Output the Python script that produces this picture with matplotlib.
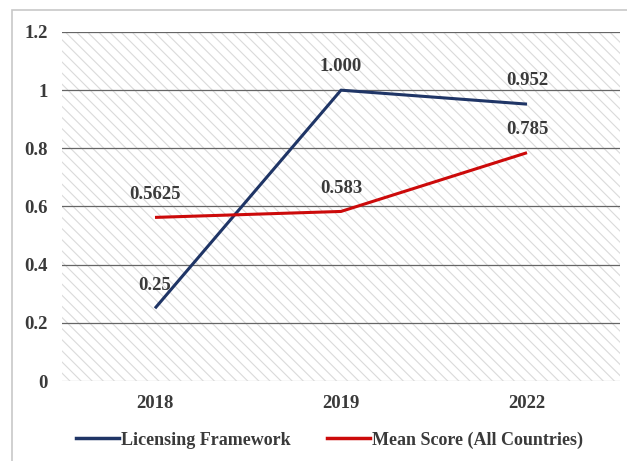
import matplotlib
matplotlib.use('Agg')
import matplotlib.pyplot as plt
from matplotlib.lines import Line2D
from matplotlib.patches import Rectangle

plt.rcParams.update({
    'font.family': 'Liberation Serif',
    'font.weight': 'bold',
    'font.size': 13.5,
    'hatch.color': '#dadada',
    'hatch.linewidth': 0.8,
})

years = ['2018', '2019', '2022']
licensing = [0.25, 1.000, 0.952]
mean_score = [0.5625, 0.583, 0.785]
licensing_labels = ['0.25', '1.000', '0.952']
mean_labels = ['0.5625', '0.583', '0.785']
yticks = [0, 0.2, 0.4, 0.6, 0.8, 1.0, 1.2]
ytick_labels = ['0', '0.2', '0.4', '0.6', '0.8', '1', '1.2']

BLUE = '#1f3566'
RED = '#cc0a0a'
TXT = '#3a3a3a'

fig = plt.figure(figsize=(6.27, 4.61), dpi=100)
# outer chart border
fig.patches.append(Rectangle((12 / 627, -0.05), 1.0, 1.0 - 10 / 461 + 0.05,
                             transform=fig.transFigure, fill=False,
                             edgecolor='#c8c8c8', lw=1.2))

ax = fig.add_axes([62 / 627, 1 - 381 / 461, 558 / 627, 349 / 461])
ax.patch.set_facecolor('white')
# striped plot area
bg = Rectangle((0, 0), 1, 1, transform=ax.transAxes, facecolor='white',
               edgecolor='#dadada', lw=0, hatch='\\\\\\', zorder=0)
ax.add_patch(bg)

x = range(len(years))
ax.set_xlim(-0.5, len(years) - 0.5)
ax.set_ylim(0, 1.2)
for yv in yticks[1:]:
    ax.axhline(yv, color='#666666', lw=0.9, zorder=1)
ax.axhline(0, color='#d9d9d9', lw=1.0, zorder=1)

ax.plot(x, licensing, color=BLUE, lw=2.2, zorder=3, solid_capstyle='butt')
ax.plot(x, mean_score, color=RED, lw=2.2, zorder=3, solid_capstyle='butt')

# data labels above each point
for i, (v, s) in enumerate(zip(licensing, licensing_labels)):
    ax.text(i, v + 0.08, s, ha='center', va='center',
            color=TXT, fontsize=13.5, fontweight='bold', zorder=4)
for i, (v, s) in enumerate(zip(mean_score, mean_labels)):
    ax.text(i, v + 0.08, s, ha='center', va='center',
            color=TXT, fontsize=13.5, fontweight='bold', zorder=4)

ax.set_xticks(list(x))
ax.set_xticklabels(years)
ax.set_yticks(yticks)
ax.set_yticklabels(ytick_labels)
ax.tick_params(length=0, colors=TXT, labelsize=13.5, pad=10)
ax.tick_params(axis='y', pad=10)
for sp in ax.spines.values():
    sp.set_visible(False)

handles = [Line2D([], [], color=BLUE, lw=2.5), Line2D([], [], color=RED, lw=2.5)]
fig.legend(handles, ['Licensing Framework', 'Mean Score (All Countries)'],
           loc='center', bbox_to_anchor=(0.525, 1 - 440 / 461), ncol=2,
           frameon=False, handlelength=2.4, handletextpad=0.1, columnspacing=2.0,
           prop={'family': 'Liberation Serif', 'weight': 'bold', 'size': 13},
           labelcolor=TXT)

plt.savefig('out.png', dpi=100)
plt.close()
